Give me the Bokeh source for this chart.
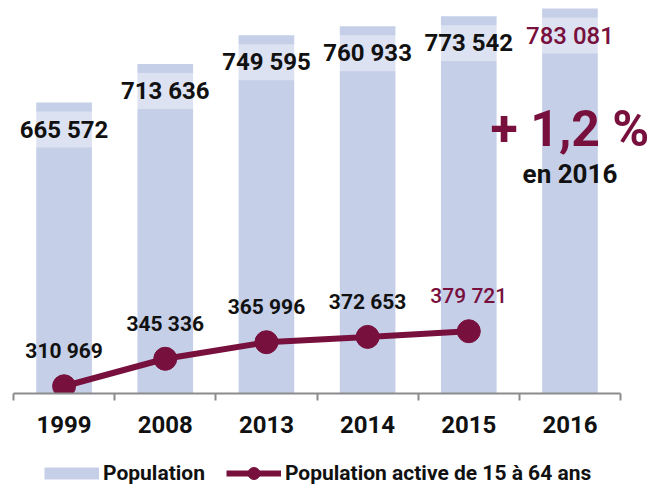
from bokeh.plotting import figure
from bokeh.layouts import column
from bokeh.models import ColumnDataSource, FixedTicker, Label, Legend, LegendItem, Range1d
from bokeh.embed import file_html
from bokeh.resources import INLINE

# ---- data ----
years = ["1999", "2008", "2013", "2014", "2015", "2016"]
population = [665572, 713636, 749595, 760933, 773542, 783081]
active_years = ["1999", "2008", "2013", "2014", "2015"]
population_active = [310969, 345336, 365996, 372653, 379721]
growth_text = "+ 1,2 %"
growth_sub = "en 2016"
series_names = ["Population", "Population active de 15 à 64 ans"]

# ---- style ----
BAR = "#c5cfe8"
MAROON = "#78103e"
BLACK = "#111111"
GREY = "#8c8c8c"
Y_START = 301900
Y_END = 793080
X_PAD_RIGHT = 0.385
MEDIUM = "'Roboto Medium', Roboto"


def fmt(v):
    return f"{v:,}".replace(",", " ")


xs = list(range(len(years)))
bar_src = ColumnDataSource(dict(
    x=xs,
    top=population,
    bottom=[Y_START] * len(years),
    label=[fmt(v) for v in population],
    color=[BLACK] * (len(years) - 1) + [MAROON],
    style=["bold"] * (len(years) - 1) + ["normal"],
    font=["Roboto"] * (len(years) - 1) + [MEDIUM],
))
ax = [years.index(y) for y in active_years]
line_src = ColumnDataSource(dict(
    x=ax,
    y=population_active,
    label=[fmt(v) for v in population_active],
    color=[BLACK] * (len(ax) - 1) + [MAROON],
    style=["bold"] * (len(ax) - 1) + ["normal"],
    font=["Roboto"] * (len(ax) - 1) + [MEDIUM],
))

# ---- main chart ----
p = figure(width=659, height=443, output_backend="svg", toolbar_location=None,
           x_range=Range1d(-0.5, len(years) - 0.5 + X_PAD_RIGHT), y_range=Range1d(Y_START, Y_END),
           min_border_left=13, min_border_right=0, min_border_top=0, min_border_bottom=50)
p.outline_line_color = None
p.grid.visible = False
p.yaxis.visible = False

p.vbar(x="x", top="top", bottom="bottom", width=0.55, source=bar_src,
       fill_color=BAR, line_color=None)
p.text(x="x", y="top", text="label", source=bar_src, text_color="color",
       text_font="font", text_font_style="style", text_font_size="24px",
       text_align="center", text_baseline="middle", y_offset=27,
       background_fill_color="white", background_fill_alpha=0.4, padding=4)

p.line(x="x", y="y", source=line_src, line_color=MAROON, line_width=6)
p.scatter(x="x", y="y", source=line_src, size=23, fill_color=MAROON, line_color=MAROON)
p.text(x="x", y="y", text="label", source=line_src, text_color="color",
       text_font="font", text_font_style="style", text_font_size="21px",
       text_align="center", text_baseline="middle", y_offset=-35)

p.add_layout(Label(x=len(years) - 1, y=265, y_units="screen", text=growth_text,
                   text_font="Roboto", text_font_style="bold", text_font_size="50px",
                   text_color=MAROON, text_align="center", text_baseline="middle"))
p.add_layout(Label(x=len(years) - 1, y=220, y_units="screen", text=growth_sub,
                   text_font="Roboto", text_font_style="bold", text_font_size="26px",
                   text_color=BLACK, text_align="center", text_baseline="middle"))

xa = p.xaxis[0]
xa.bounds = (-0.5, len(years) - 0.5)
xa.ticker = FixedTicker(ticks=xs, minor_ticks=[i - 0.5 for i in range(len(years) + 1)])
xa.major_label_overrides = {i: y for i, y in enumerate(years)}
xa.major_tick_line_color = None
xa.major_tick_out = 0
xa.major_tick_in = 0
xa.minor_tick_line_color = GREY
xa.minor_tick_line_width = 2
xa.minor_tick_out = 7
xa.minor_tick_in = 0
xa.axis_line_color = GREY
xa.axis_line_width = 2
xa.major_label_standoff = 15
xa.major_label_text_font = "Roboto"
xa.major_label_text_font_style = "bold"
xa.major_label_text_font_size = "24px"
xa.major_label_text_color = BLACK

# ---- legend strip (series styles, data kept out of its view) ----
lg = figure(width=659, height=44, output_backend="svg", toolbar_location=None,
            x_range=Range1d(0, 1), y_range=Range1d(0, 1),
            min_border_left=0, min_border_right=0, min_border_top=0, min_border_bottom=0)
lg.outline_line_color = None
lg.grid.visible = False
lg.axis.visible = False
pop_key = lg.line(x="x", y="top", source=bar_src, line_width=12, line_color=BAR, line_cap="butt")
act_line = lg.line(x="x", y="y", source=line_src, line_color=MAROON, line_width=6)
act_pts = lg.scatter(x="x", y="y", source=line_src, size=23, fill_color=MAROON, line_color=MAROON)
legend = Legend(items=[LegendItem(label=series_names[0], renderers=[pop_key]),
                       LegendItem(label=series_names[1], renderers=[act_line, act_pts])],
                orientation="horizontal", location=(31, -1),
                glyph_width=55, glyph_height=30, label_standoff=4, spacing=21,
                padding=0, margin=0, border_line_color=None, background_fill_alpha=0,
                label_text_font="Roboto", label_text_font_style="bold",
                label_text_font_size="21px", label_text_color=BLACK)
lg.add_layout(legend)

open("out.html", "w").write(file_html(column(p, lg, spacing=0), INLINE))
